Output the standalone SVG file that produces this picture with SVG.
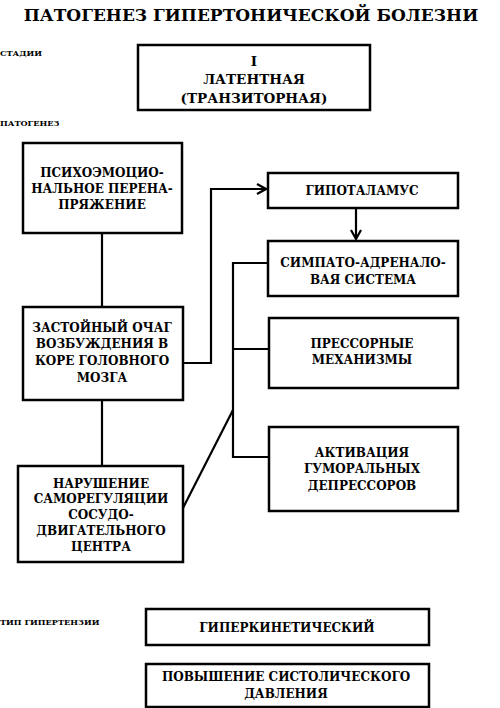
<svg xmlns="http://www.w3.org/2000/svg" width="500" height="708" viewBox="0 0 500 708">
<defs>
<marker id="arr" markerWidth="12" markerHeight="12" refX="10" refY="6" orient="auto" markerUnits="userSpaceOnUse">
<path d="M1,1 L10,6 L1,11" fill="none" stroke="#000" stroke-width="2.2"/>
</marker>
<style>
text{font-family:"DejaVu Serif",serif;font-weight:bold;fill:#000}
.b{fill:#fff;stroke:#000;stroke-width:2.5}
.t{font-size:12px;text-anchor:middle}
.s{font-size:13.5px;text-anchor:middle}
.l{font-size:8.2px}
.c{fill:none;stroke:#000;stroke-width:2.2}
</style>
</defs>
<rect width="500" height="708" fill="#fff"/>
<text x="251" y="21" font-size="17" text-anchor="middle">ПАТОГЕНЕЗ ГИПЕРТОНИЧЕСКОЙ БОЛЕЗНИ</text>
<text class="l" x="0" y="56">СТАДИИ</text>
<text class="l" x="0" y="126">ПАТОГЕНЕЗ</text>
<text class="l" x="0" y="625">ТИП ГИПЕРТЕНЗИИ</text>

<g id="connectors">
<line class="c" x1="102" y1="233" x2="102" y2="308"/>
<line class="c" x1="102" y1="400" x2="102" y2="466"/>
<polyline class="c" points="183,363 211,363 211,189 266,189" marker-end="url(#arr)"/>
<line class="c" x1="356" y1="208" x2="356" y2="239" marker-end="url(#arr)"/>
<polyline class="c" points="268,263 233,263 233,457 269,457"/>
<line class="c" x1="233" y1="349" x2="269" y2="349"/>
<line class="c" x1="183" y1="508" x2="233" y2="410"/>
</g>

<g id="stage">
<rect class="b" x="138" y="45" width="232" height="65"/>
<text class="s" x="254" y="66">I</text>
<text class="s" x="254" y="84">ЛАТЕНТНАЯ</text>
<text class="s" x="254" y="103">(ТРАНЗИТОРНАЯ)</text>
</g>
<g id="psycho">
<rect class="b" x="23" y="143" width="159" height="90"/>
<text class="t" x="102" y="177">ПСИХОЭМОЦИО-</text>
<text class="t" x="102" y="193">НАЛЬНОЕ ПЕРЕНА-</text>
<text class="t" x="102" y="209">ПРЯЖЕНИЕ</text>
</g>
<g id="focus">
<rect class="b" x="23" y="307" width="160" height="93"/>
<text class="t" x="102" y="332">ЗАСТОЙНЫЙ ОЧАГ</text>
<text class="t" x="102" y="348">ВОЗБУЖДЕНИЯ В</text>
<text class="t" x="102" y="365">КОРЕ ГОЛОВНОГО</text>
<text class="t" x="102" y="382">МОЗГА</text>
</g>
<g id="disorder">
<rect class="b" x="18" y="466" width="165" height="96"/>
<text class="t" x="101" y="488">НАРУШЕНИЕ</text>
<text class="t" x="101" y="503">САМОРЕГУЛЯЦИИ</text>
<text class="t" x="101" y="519">СОСУДО-</text>
<text class="t" x="101" y="535">ДВИГАТЕЛЬНОГО</text>
<text class="t" x="101" y="551">ЦЕНТРА</text>
</g>
<g id="hypothalamus">
<rect class="b" x="268" y="173" width="190" height="35"/>
<text class="t" x="362" y="195">ГИПОТАЛАМУС</text>
</g>
<g id="sympatho">
<rect class="b" x="268" y="241" width="190" height="55"/>
<text class="t" x="363" y="267">СИМПАТО-АДРЕНАЛО-</text>
<text class="t" x="363" y="284">ВАЯ СИСТЕМА</text>
</g>
<g id="pressor">
<rect class="b" x="269" y="318" width="189" height="70"/>
<text class="t" x="362" y="348">ПРЕССОРНЫЕ</text>
<text class="t" x="362" y="364">МЕХАНИЗМЫ</text>
</g>
<g id="activation">
<rect class="b" x="269" y="427" width="189" height="84"/>
<text class="t" x="362" y="457">АКТИВАЦИЯ</text>
<text class="t" x="362" y="473">ГУМОРАЛЬНЫХ</text>
<text class="t" x="362" y="490">ДЕПРЕССОРОВ</text>
</g>
<g id="hyperkinetic">
<rect class="b" x="146" y="609" width="283" height="36"/>
<text class="t" x="287" y="632">ГИПЕРКИНЕТИЧЕСКИЙ</text>
</g>
<g id="systolic">
<rect class="b" x="146" y="664" width="283" height="43"/>
<text class="t" x="286" y="681">ПОВЫШЕНИЕ СИСТОЛИЧЕСКОГО</text>
<text class="t" x="286" y="698">ДАВЛЕНИЯ</text>
</g>
</svg>
